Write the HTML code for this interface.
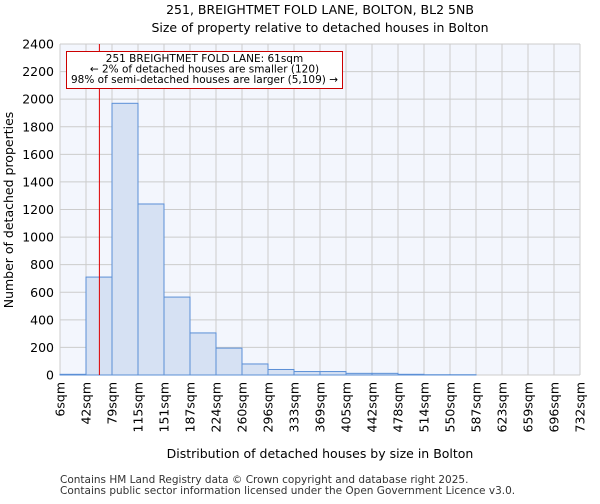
<!DOCTYPE html>
<html><head><meta charset="utf-8"><style>
body{margin:0;background:#fff;font-family:"DejaVu Sans","Liberation Sans",sans-serif}
</style></head><body>
<svg id="chart" width="600" height="500" xmlns="http://www.w3.org/2000/svg" font-family="DejaVu Sans, Liberation Sans, sans-serif">
<text x="320" y="14" text-anchor="middle" font-size="12.5">251, BREIGHTMET FOLD LANE, BOLTON, BL2 5NB</text>
<text x="320" y="32" text-anchor="middle" font-size="12.5">Size of property relative to detached houses in Bolton</text>
<rect x="60" y="44" width="520" height="331" fill="#f3f6fd"/>
<g id="grid"></g><g id="bars"></g><g id="axes"></g>
<text transform="translate(13,210) rotate(-90)" text-anchor="middle" font-size="12.5">Number of detached properties</text>
<text x="320" y="458" text-anchor="middle" font-size="12.5">Distribution of detached houses by size in Bolton</text>
<text x="60" y="483" font-size="10.5" fill="#333">Contains HM Land Registry data © Crown copyright and database right 2025.</text>
<text x="60" y="494" font-size="10.5" fill="#333">Contains public sector information licensed under the Open Government Licence v3.0.</text>
</svg>
<script>
const tickLabels=["6sqm","42sqm","79sqm","115sqm","151sqm","187sqm","224sqm","260sqm","296sqm","333sqm","369sqm","405sqm","442sqm","478sqm","514sqm","550sqm","587sqm","623sqm","659sqm","696sqm","732sqm"];
const binStarts=[6,42,79,115,151,187,224,260,296,333,369,405,442,478,514,550,587,623,659,696];
const counts=[5,710,1970,1240,565,305,195,80,40,25,25,12,12,5,2,2,0,0,0,0];
const yTicks=[0,200,400,600,800,1000,1200,1400,1600,1800,2000,2200,2400];
const subjectSize=61;
const NS="http://www.w3.org/2000/svg";
const x0=60,x1=580,y0=375,y1=44,xmin=6,xmax=732,ymax=2400;
const xs=v=>x0+(v-xmin)/(xmax-xmin)*(x1-x0);
const ys=v=>y0-v/ymax*(y0-y1);
function mk(t,a,p){const e=document.createElementNS(NS,t);for(const k in a)e.setAttribute(k,a[k]);p.appendChild(e);return e;}
const grid=document.getElementById('grid'),bars=document.getElementById('bars'),axes=document.getElementById('axes');
const bw=(x1-x0)/binStarts.length;
yTicks.forEach(v=>{
 const l=mk('line',{x1:x0,x2:x1,y1:ys(v),y2:ys(v),stroke:'#cccccc','stroke-width':1},grid);
 
 
 const t=mk('text',{x:x0-6,y:ys(v)+4.5,'text-anchor':'end','font-size':12.5},axes);
 t.textContent=v;
 
 
});
tickLabels.forEach((s,i)=>{
 const x=x0+i*bw;
 const l=mk('line',{x1:x,x2:x,y1:y1,y2:y0,stroke:'#cccccc','stroke-width':1},grid);
 
 
 const t=mk('text',{transform:`translate(${x+4.5},382) rotate(-90)`,'text-anchor':'end','font-size':12.5},axes);
 t.textContent=s;
 
 
});
counts.forEach((c,i)=>{
 const x=x0+i*bw;
 const r=mk('rect',{x:x,y:ys(c),width:bw,height:y0-ys(c),fill:'#d6e1f3',stroke:'#5b8fd6','stroke-width':1},bars);
 
 
});
const sx=xs(subjectSize);
const ml=mk('line',{x1:sx,x2:sx,y1:y1,y2:y0,stroke:'#dd0000','stroke-width':1},bars);


const box=mk('rect',{x:66.5,y:51.5,width:276,height:37,fill:'#fff',stroke:'#cc0000','stroke-width':1},bars);


["251 BREIGHTMET FOLD LANE: 61sqm","← 2% of detached houses are smaller (120)","98% of semi-detached houses are larger (5,109) →"].forEach((s,i)=>{
 const t=mk('text',{x:204.5,y:62+i*10.5,'text-anchor':'middle','font-size':10.5},bars);
 t.textContent=s;
 
 
});
</script>
</body></html>
